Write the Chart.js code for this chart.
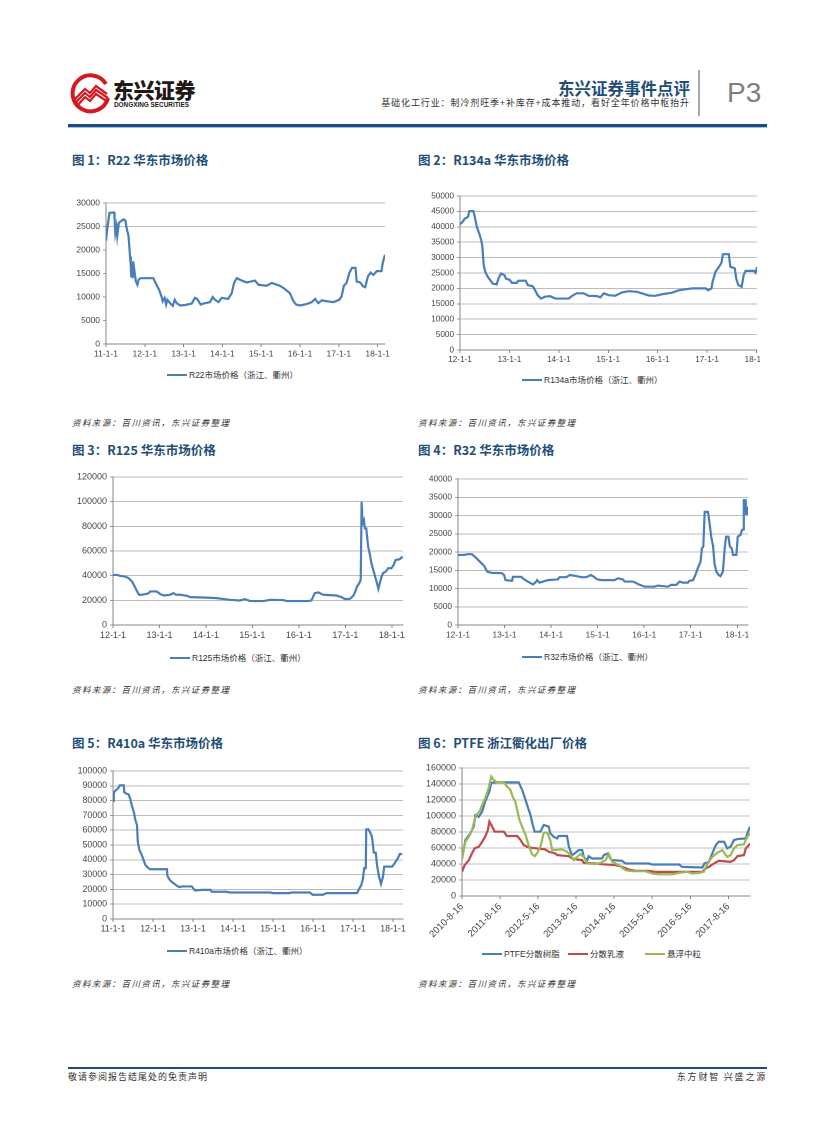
<!DOCTYPE html>
<html><head><meta charset="utf-8">
<script src="https://cdn.jsdelivr.net/npm/chart.js@4.4.1/dist/chart.umd.min.js"></script>
<style>
body{margin:0;width:827px;height:1122px;position:relative;background:#fff;overflow:hidden;font-family:"Noto Sans CJK SC","Liberation Sans",sans-serif;}
.a{position:absolute;white-space:nowrap;}
.title{font-weight:700;font-size:12.5px;color:#1f4e79;line-height:16px;}
.src{font-size:8.5px;font-style:italic;color:#333;line-height:12px;letter-spacing:1.4px;}
.leg{font-size:8.5px;color:#333;line-height:12px;font-family:"Liberation Sans","Noto Sans CJK SC",sans-serif;}
.leg i{display:inline-block;width:20px;height:2.2px;vertical-align:middle;margin-right:2px;position:relative;top:-1px}
canvas{position:absolute;}
</style></head><body>

<!-- header -->
<svg class="a" style="left:70px;top:72px" width="42" height="42" viewBox="0 0 42 42">
  <path d="M36 12 A18 18 0 1 0 38 26" fill="none" stroke="#d7191f" stroke-width="4"/>
  <path d="M5 27 L15 17 L20 21 L26 14 L37 22" fill="none" stroke="#d7191f" stroke-width="2.2"/>
  <path d="M5 31 L15 21 L20 25 L26 18 L38 26" fill="none" stroke="#d7191f" stroke-width="2.2"/>
  <path d="M7 34 L15 25 L20 29 L26 22 L38 30" fill="none" stroke="#d7191f" stroke-width="2.2"/>
</svg>
<div class="a" style="left:113px;top:77px;font-size:21px;line-height:24px;font-weight:900;color:#231815;letter-spacing:-0.5px">东兴证券</div>
<div class="a" style="left:114px;top:101px;font-size:6.4px;line-height:8px;font-weight:700;color:#231815;font-family:'Liberation Sans'">DONGXING SECURITIES</div>
<div class="a" style="right:137px;top:78px;font-size:16.5px;line-height:20px;font-weight:700;color:#1f4e79">东兴证券事件点评</div>
<div class="a" style="right:137px;top:97px;font-size:9px;line-height:12px;color:#333;letter-spacing:0.9px">基础化工行业：制冷剂旺季+补库存+成本推动，看好全年价格中枢抬升</div>
<div class="a" style="left:698px;top:70px;width:1.5px;height:46px;background:#a6a6a6"></div>
<div class="a" style="left:727px;top:76px;font-size:28px;line-height:34px;color:#7f7f7f;font-family:'Liberation Sans'">P3</div>
<div class="a" style="left:68px;top:124px;width:699px;height:3px;background:#1f4a7c"></div>
<div class="a" style="left:68px;top:127px;width:699px;height:1px;background:#9dc3e6"></div>

<!-- titles -->
<div class="a title" style="left:72px;top:152px">图 1：R22 华东市场价格</div>
<div class="a title" style="left:418px;top:152px">图 2：R134a 华东市场价格</div>
<div class="a title" style="left:72px;top:442px">图 3：R125 华东市场价格</div>
<div class="a title" style="left:418px;top:442px">图 4：R32 华东市场价格</div>
<div class="a title" style="left:72px;top:735px">图 5：R410a 华东市场价格</div>
<div class="a title" style="left:418px;top:735px">图 6：PTFE 浙江衢化出厂价格</div>

<!-- legends -->
<div class="a leg" style="left:167px;top:369px"><i style="background:#4a7ebb"></i>R22市场价格（浙江、衢州）</div>
<div class="a leg" style="left:522px;top:374px"><i style="background:#4a7ebb"></i>R134a市场价格（浙江、衢州）</div>
<div class="a leg" style="left:170px;top:652px"><i style="background:#4a7ebb"></i>R125市场价格（浙江、衢州）</div>
<div class="a leg" style="left:522px;top:651px"><i style="background:#4a7ebb"></i>R32市场价格（浙江、衢州）</div>
<div class="a leg" style="left:167px;top:945px"><i style="background:#4a7ebb"></i>R410a市场价格（浙江、衢州）</div>
<div class="a leg" style="left:482px;top:948px"><i style="background:#4a7ebb"></i>PTFE分散树脂</div>
<div class="a leg" style="left:568px;top:948px"><i style="background:#be4b48"></i>分散乳液</div>
<div class="a leg" style="left:645px;top:948px"><i style="background:#98b954"></i>悬浮中粒</div>

<!-- sources -->
<div class="a src" style="left:72px;top:416px">资料来源：百川资讯，东兴证券整理</div>
<div class="a src" style="left:418px;top:416px">资料来源：百川资讯，东兴证券整理</div>
<div class="a src" style="left:72px;top:683px">资料来源：百川资讯，东兴证券整理</div>
<div class="a src" style="left:418px;top:683px">资料来源：百川资讯，东兴证券整理</div>
<div class="a src" style="left:72px;top:977px">资料来源：百川资讯，东兴证券整理</div>
<div class="a src" style="left:418px;top:977px">资料来源：百川资讯，东兴证券整理</div>

<!-- footer -->
<div class="a" style="left:68px;top:1067px;width:699px;height:1.5px;background:#1f4a7c"></div>
<div class="a" style="left:68px;top:1071px;font-size:9px;line-height:12px;color:#333;letter-spacing:1px">敬请参阅报告结尾处的免责声明</div>
<div class="a" style="right:60px;top:1071px;font-size:9px;line-height:12px;color:#333;letter-spacing:1.8px">东方财智 兴盛之源</div>

<canvas id="c1"></canvas><canvas id="c2"></canvas><canvas id="c3"></canvas>
<canvas id="c4"></canvas><canvas id="c5"></canvas><canvas id="c6"></canvas>

<script>
// ---------- DATA ----------
const c1XLabels = ['11-1-1','12-1-1','13-1-1','14-1-1','15-1-1','16-1-1','17-1-1','18-1-1'];
const c1Time = [2011.00,2011.03,2011.09,2011.21,2011.22,2011.24,2011.27,2011.29,2011.33,2011.36,2011.45,2011.50,2011.53,2011.58,2011.62,2011.64,2011.65,2011.67,2011.69,2011.70,2011.74,2011.77,2011.81,2011.84,2011.89,2012.22,2012.26,2012.32,2012.37,2012.43,2012.46,2012.51,2012.55,2012.58,2012.65,2012.72,2012.77,2012.82,2012.91,2013.04,2013.21,2013.29,2013.35,2013.44,2013.51,2013.68,2013.75,2013.81,2013.90,2013.98,2014.15,2014.24,2014.30,2014.37,2014.50,2014.63,2014.84,2014.93,2015.14,2015.27,2015.48,2015.61,2015.74,2015.83,2015.90,2016.00,2016.17,2016.30,2016.39,2016.47,2016.56,2016.69,2016.86,2017.01,2017.07,2017.13,2017.20,2017.27,2017.34,2017.43,2017.46,2017.55,2017.62,2017.68,2017.75,2017.82,2017.89,2017.98,2018.10,2018.13,2018.19];
const c1R22 = [22000,24300,27900,28000,27000,23600,25000,23000,25700,26000,26500,26300,24700,23000,18600,16500,14400,17200,14000,17600,15100,13300,12600,13700,14000,14000,13300,12300,11500,10100,9100,9800,8400,9400,8700,8100,9400,8700,8200,8300,8600,9800,9600,8400,8600,8900,10000,9400,8900,9800,9600,10800,13000,14000,13500,13100,13500,12600,12400,13000,12400,11700,10800,9100,8400,8200,8500,8900,9600,8700,9300,9100,8900,9400,10100,12400,13000,15100,16200,16200,13300,13100,12300,12100,14400,15200,14700,15500,15500,17200,19000];

const c2XLabels = ['12-1-1','13-1-1','14-1-1','15-1-1','16-1-1','17-1-1','18-1-1'];
const c2Time = [2012.00,2012.05,2012.10,2012.16,2012.19,2012.27,2012.30,2012.34,2012.39,2012.43,2012.45,2012.48,2012.51,2012.56,2012.61,2012.66,2012.74,2012.78,2012.83,2012.90,2012.93,2013.01,2013.05,2013.15,2013.18,2013.33,2013.37,2013.47,2013.52,2013.57,2013.64,2013.72,2013.82,2013.93,2014.20,2014.26,2014.36,2014.50,2014.60,2014.77,2014.84,2014.91,2015.01,2015.14,2015.28,2015.41,2015.58,2015.68,2015.82,2015.95,2016.09,2016.29,2016.43,2016.56,2016.70,2016.97,2017.02,2017.09,2017.11,2017.17,2017.24,2017.29,2017.32,2017.44,2017.47,2017.56,2017.59,2017.63,2017.70,2017.74,2017.78,2017.95,2017.98,2018.01];
const c2R134a = [40800,41600,42700,43200,45100,45100,43200,40000,37800,35600,34000,27500,25400,23800,22700,21600,21300,23200,24800,24300,23200,22700,21800,21800,22500,22500,21100,20700,19400,17800,16700,17300,17500,16700,16700,17500,18400,18400,17600,17500,17100,18400,17800,17600,18700,19100,18900,18400,17700,17600,18100,18600,19400,19700,20000,20000,19400,20000,22100,25400,27000,28300,31100,31100,27000,26500,23200,21100,20500,24300,25700,25700,25100,27000];

const c3XLabels = ['12-1-1','13-1-1','14-1-1','15-1-1','16-1-1','17-1-1','18-1-1'];
const c3Time = [2012.00,2012.09,2012.16,2012.26,2012.34,2012.41,2012.46,2012.52,2012.56,2012.62,2012.69,2012.77,2012.80,2012.94,2013.02,2013.09,2013.23,2013.30,2013.36,2013.45,2013.59,2013.66,2013.95,2014.23,2014.52,2014.73,2014.84,2014.95,2015.24,2015.38,2015.66,2015.74,2016.20,2016.27,2016.34,2016.42,2016.52,2016.81,2016.92,2016.99,2017.10,2017.17,2017.20,2017.25,2017.30,2017.33,2017.35,2017.37,2017.40,2017.42,2017.45,2017.49,2017.53,2017.56,2017.61,2017.67,2017.71,2017.74,2017.78,2017.81,2017.87,2017.92,2017.99,2018.04,2018.08,2018.17,2018.21,2018.24];
const c3R125 = [40600,40600,39800,39300,37900,35200,31700,27200,24500,24500,25000,25800,27200,27200,25000,23900,24500,25800,24500,24500,23700,22600,22300,21800,20400,19900,21000,19400,19400,20400,20200,19400,19400,19900,25800,26400,24500,23900,22600,21000,21200,23700,25800,31200,33900,36600,99800,82300,85000,78300,78300,63500,56800,50000,43300,35200,29300,33900,39300,42000,43300,46000,46000,48700,52700,53300,54900,54900];

const c4XLabels = ['12-1-1','13-1-1','14-1-1','15-1-1','16-1-1','17-1-1','18-1-1'];
const c4Time = [2012.00,2012.14,2012.20,2012.30,2012.36,2012.42,2012.49,2012.56,2012.59,2012.63,2012.72,2012.94,2012.99,2013.02,2013.16,2013.18,2013.36,2013.42,2013.50,2013.61,2013.66,2013.70,2013.75,2013.83,2013.93,2014.15,2014.18,2014.33,2014.40,2014.54,2014.65,2014.76,2014.85,2014.92,2014.99,2015.08,2015.36,2015.44,2015.54,2015.58,2015.76,2015.87,2016.01,2016.22,2016.29,2016.51,2016.58,2016.69,2016.76,2016.83,2016.94,2016.97,2017.05,2017.10,2017.15,2017.21,2017.24,2017.27,2017.30,2017.37,2017.40,2017.44,2017.48,2017.51,2017.55,2017.60,2017.64,2017.69,2017.73,2017.76,2017.81,2017.84,2017.88,2017.91,2017.98,2018.01,2018.07,2018.10,2018.13,2018.14,2018.18,2018.19,2018.21,2018.22];
const c4R32 = [19200,19200,19400,19400,18700,18000,17100,16200,15500,14600,14300,14200,13700,12300,12100,13200,13200,12500,11900,11100,11600,12300,11600,11900,12300,12500,13100,13100,13700,13400,13100,13100,13700,13200,12500,12300,12300,12800,12500,11900,11900,11200,10500,10500,10800,10500,11000,11000,11900,11600,11600,12100,12300,13700,15500,17300,21000,21500,31000,31000,28300,24200,21600,16900,14600,13700,13400,14600,21000,24200,24200,21500,21000,19200,19200,24200,24700,26000,26200,34200,34200,30100,32400,30100];

const c5XLabels = ['11-1-1','12-1-1','13-1-1','14-1-1','15-1-1','16-1-1','17-1-1','18-1-1'];
const c5Time = [2011.00,2011.02,2011.06,2011.12,2011.17,2011.27,2011.28,2011.33,2011.39,2011.43,2011.47,2011.52,2011.56,2011.60,2011.62,2011.66,2011.71,2011.75,2011.81,2011.86,2011.93,2012.35,2012.36,2012.43,2012.51,2012.60,2012.66,2012.72,2012.97,2013.05,2013.22,2013.43,2013.47,2013.84,2013.93,2014.92,2015.01,2015.42,2015.46,2015.92,2015.99,2016.25,2016.34,2017.10,2017.15,2017.21,2017.25,2017.28,2017.32,2017.33,2017.38,2017.42,2017.46,2017.48,2017.52,2017.57,2017.60,2017.65,2017.70,2017.75,2017.78,2017.98,2018.04,2018.12,2018.17,2018.23];
const c5R410a = [79700,85100,86900,88000,90300,90300,85800,84700,84200,81300,76800,72400,66800,63400,52200,46600,43900,41000,36500,34900,33600,33600,29100,26000,24200,22400,21500,22000,22000,19300,19700,19700,18400,18400,17900,17900,17500,17500,17900,17900,16400,16400,17500,17500,20200,23100,27600,34300,34300,60500,60700,58900,56700,54400,44800,44800,36500,28700,23700,28700,35400,35400,37600,41000,43900,43900];

// chart 6: category axis, positions in label-interval units
const c6XLabels = ['2010-8-16','2011-8-16','2012-5-16','2013-8-16','2014-8-16','2015-5-16','2016-5-16','2017-8-16'];
const c6BluePos = [0.00,0.09,0.22,0.31,0.35,0.44,0.53,0.61,0.72,0.77,0.83,1.49,1.58,1.67,1.74,1.80,1.86,1.91,2.06,2.15,2.28,2.32,2.41,2.50,2.54,2.76,2.81,2.89,2.96,3.07,3.16,3.20,3.29,3.33,3.42,3.68,3.73,3.84,3.90,3.95,4.21,4.30,4.91,5.00,5.70,5.79,6.32,6.37,6.49,6.58,6.67,6.75,6.89,6.97,7.06,7.15,7.24,7.46,7.50,7.57];
const c6Blue = [46000,70000,78300,86700,101000,99000,105500,118000,130700,141100,142000,142000,132800,120200,109700,101300,88800,80400,80400,88800,86700,78300,74100,72000,75000,75000,61600,51100,53200,57400,57400,49000,44800,49800,46900,46900,51100,53200,46900,44800,44000,40600,40600,39400,39400,36400,35600,40600,42700,53200,63700,67800,67800,59500,61600,69900,71200,72000,78300,86700];
const c6RedPos = [0.00,0.07,0.18,0.26,0.33,0.44,0.53,0.61,0.68,0.72,0.77,0.86,1.10,1.18,1.45,1.54,1.62,1.75,2.19,2.28,2.46,2.50,2.81,2.89,3.03,3.16,3.20,3.51,3.68,4.04,4.21,4.39,4.56,4.91,5.09,6.32,6.40,6.49,6.62,6.75,7.06,7.15,7.24,7.41,7.46,7.54,7.57];
const c6Red = [30200,38500,44800,53200,59500,61600,67800,74100,82500,93000,88800,80400,80400,75000,75000,69900,63700,60700,58200,55300,53200,51100,49800,46900,45600,44800,41500,40600,39800,38500,36400,33100,31400,31400,30200,30200,34300,36400,40600,44000,42700,44800,49800,51100,59500,63700,65700];
const c6GreenPos = [0.00,0.09,0.18,0.25,0.31,0.37,0.46,0.53,0.61,0.70,0.77,0.83,0.92,1.10,1.18,1.27,1.33,1.40,1.45,1.51,1.58,1.67,1.75,1.84,1.91,1.97,2.06,2.15,2.24,2.32,2.37,2.63,2.76,2.85,2.94,3.03,3.11,3.20,3.29,3.51,3.64,3.77,3.86,3.95,4.12,4.30,4.47,4.82,5.00,5.18,5.53,5.70,5.92,6.05,6.23,6.36,6.45,6.58,6.71,6.84,6.97,7.06,7.15,7.24,7.41,7.50,7.57];
const c6Green = [46900,67800,74100,80400,90900,101300,105500,113900,122300,134900,149500,145300,142000,142000,137000,132800,124400,118100,107600,95100,86700,76200,63700,52400,49800,53200,61600,79200,79200,69900,57400,58200,55300,51100,44800,49000,52400,49000,40600,39800,41500,44800,52400,42700,38500,32200,31000,31000,28100,27200,27200,28900,30200,28100,28900,30200,40600,49000,54000,57400,49000,51100,59500,63700,64500,74100,78300];

// ---------- RENDER ----------
Chart.defaults.font.family = "'Liberation Sans', Arial, sans-serif";
Chart.defaults.color = '#444';
const AXIS = '#868686', GRID = '#a6a6a6';

function pts(xs, ys){ return xs.map((x,i)=>({x:x, y:ys[i]})); }

function make(id, o){
  const cv = document.getElementById(id);
  const w = o.W + o.plotW + o.padRight, h = o.padTop + o.plotH + o.H;
  cv.width = w; cv.height = h;
  cv.style.left = o.left + 'px'; cv.style.top = o.top + 'px';
  cv.style.width = w + 'px'; cv.style.height = h + 'px';
  new Chart(cv, {
    type: 'line',
    data: { datasets: o.datasets.map((d,i)=>({
      data: d.data, borderColor: d.color, borderWidth: 2.2, pointRadius: 0,
      tension: 0, fill: false, order: d.order ?? i
    }))},
    options: {
      responsive: false, animation: false, devicePixelRatio: 2,
      layout: { padding: { top: o.padTop, right: o.padRight, left: 0, bottom: 0 } },
      plugins: { legend: { display: false }, tooltip: { enabled: false } },
      scales: {
        x: {
          type: 'linear', min: o.xMin, max: o.xMax,
          border: { color: AXIS, width: 1 },
          grid: { drawOnChartArea: false, drawTicks: true, tickLength: 3, color: AXIS },
          ticks: {
            stepSize: 1, includeBounds: false, autoSkip: false,
            maxRotation: o.rot || 0, minRotation: o.rot || 0, padding: 2,
            font: { size: o.xfs || o.fs },
            callback: v => { const k = Math.round(v - o.xMin); return (Math.abs(v - o.xMin - k) < 1e-6 && o.xLabels[k]) ? o.xLabels[k] : ''; }
          },
          afterFit: s => { s.height = o.H; s.paddingLeft = 0; s.paddingRight = 0; }
        },
        y: {
          min: 0, max: o.yMax,
          border: { color: AXIS, width: 1 },
          grid: { color: o.gridColor || GRID, tickColor: AXIS, lineWidth: 0.8, tickLength: 3 },
          ticks: { stepSize: o.yStep, autoSkip: false, padding: 3, font: { size: o.fs }, callback: v => String(v) },
          afterFit: s => { s.width = o.W; s.paddingTop = 0; s.paddingBottom = 0; }
        }
      }
    }
  });
}

const BLUE = '#4a7ebb';
make('c1', { left:70, top:197, W:36, plotW:279, padRight:15, padTop:6, plotH:141, H:22, fs:8.5,
  xMin:2011, xMax:2018.19, yMax:30000, yStep:5000, xLabels:c1XLabels,
  gridColor: c => (c.tick && c.tick.value >= 25000) ? GRID : 'rgba(0,0,0,0)',
  datasets:[{data:pts(c1Time,c1R22), color:BLUE}] });
make('c2', { left:420, top:190, W:40, plotW:297, padRight:3, padTop:6, plotH:154, H:22, fs:8.2,
  xMin:2012, xMax:2018.01, yMax:50000, yStep:5000, xLabels:c2XLabels,
  datasets:[{data:pts(c2Time,c2R134a), color:BLUE}] });
make('c3', { left:73, top:471, W:40, plotW:290, padRight:15, padTop:6, plotH:148, H:22, fs:9,
  xMin:2012, xMax:2018.24, yMax:120000, yStep:20000, xLabels:c3XLabels,
  datasets:[{data:pts(c3Time,c3R125), color:BLUE}] });
make('c4', { left:420, top:473, W:38, plotW:290, padRight:15, padTop:6, plotH:146, H:22, fs:8.3,
  xMin:2012, xMax:2018.23, yMax:40000, yStep:5000, xLabels:c4XLabels,
  datasets:[{data:pts(c4Time,c4R32), color:BLUE}] });
make('c5', { left:73, top:765, W:40, plotW:290, padRight:15, padTop:6, plotH:148, H:22, fs:8.8,
  xMin:2011, xMax:2018.25, yMax:100000, yStep:10000, xLabels:c5XLabels,
  datasets:[{data:pts(c5Time,c5R410a), color:BLUE}] });
make('c6', { left:417, top:762, W:45, plotW:288, padRight:12, padTop:6, plotH:128, H:48, fs:9, xfs:9.6, rot:45,
  xMin:0, xMax:7.57, yMax:160000, yStep:20000, xLabels:c6XLabels,
  datasets:[
    {data:pts(c6BluePos,c6Blue), color:'#4a7ebb', order:3},
    {data:pts(c6RedPos,c6Red), color:'#be4b48', order:2},
    {data:pts(c6GreenPos,c6Green), color:'#98b954', order:1}
  ] });
</script>
</body></html>
